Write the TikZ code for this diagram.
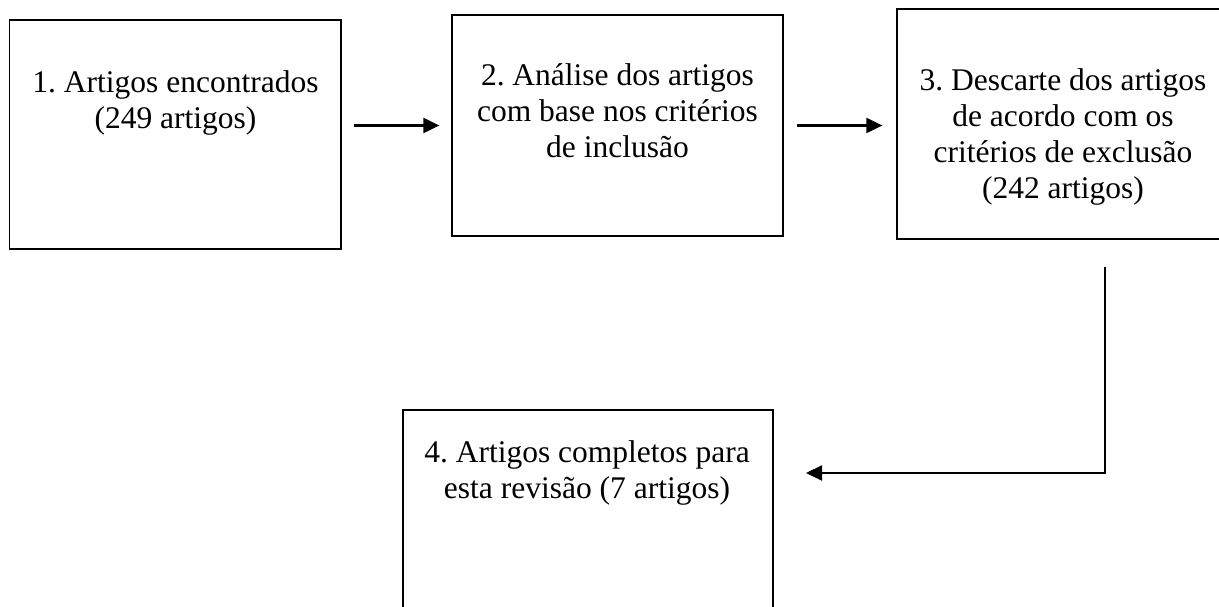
\documentclass[tikz,border=0pt]{standalone}
\usepackage{fontspec}
\setmainfont{Liberation Serif}
\usetikzlibrary{arrows.meta,calc}
\begin{document}
\frenchspacing
\begin{tikzpicture}[x=1pt,y=-1pt,
  box/.style={draw=black,line width=1.3pt,inner sep=0pt},
  txt/.style={align=center,inner sep=0pt,anchor=north,font=\fontsize{31.5}{36}\selectfont\frenchspacing},
  arr/.style={draw=black,line width=2.2pt,-{Triangle[length=16pt,width=15pt]}}]
\useasboundingbox (0,0) rectangle (1219,607);
\clip (0,0) rectangle (1219,607);
\node[box,minimum width=331.5pt,minimum height=229pt] (b1) at (175.25,134.5) {};
\node[box,minimum width=331pt,minimum height=221pt] (b2) at (617.5,125.5) {};
\node[box,minimum width=332pt,minimum height=230pt] (b3) at (1063,124) {};
\node[box,minimum width=370pt,minimum height=210pt] (b4) at (588,515) {};
\node[txt] (t1) at (175.5,70) {1. Artigos encontrados\\(249 artigos)};
\node[txt] (t2) at (617.5,63) {2. Análise dos artigos\\com base nos critérios\\de inclusão};
\node[txt] (t3) at (1063,68) {3. Descarte dos artigos\\de acordo com os\\critérios de exclusão\\(242 artigos)};
\node[txt] (t4) at (587,440) {4. Artigos completos para\\esta revisão (7 artigos)};
\draw[arr,shorten <=12pt,shorten >=12pt] (b1.east |- b2.center) -- (b2.west);
\draw[arr,shorten <=13pt,shorten >=14pt] (b2.east) -- (b3.west |- b2.east);
\coordinate (c1) at (1105,267);
\coordinate (c2) at (806,473);
\draw[arr] (c1) |- (c2);
\end{tikzpicture}
\end{document}
